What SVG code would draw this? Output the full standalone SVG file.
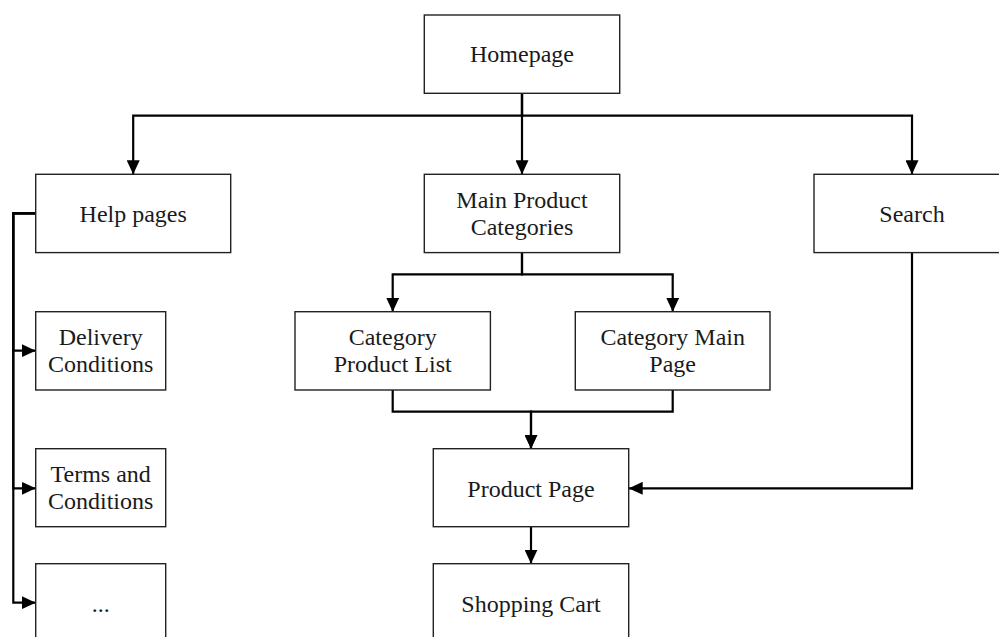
<svg xmlns="http://www.w3.org/2000/svg" width="999" height="637" viewBox="0 0 999 637">
<style>
.box{fill:#fff;stroke:#222;stroke-width:1.4}
.lbl{font-family:"Liberation Serif","DejaVu Serif",serif;font-size:24px;fill:#1a1a1a;text-anchor:middle}
.edge{fill:none;stroke:#000;stroke-width:2.2;marker-end:url(#arr)}
</style>
<defs>
<marker id="arr" markerUnits="userSpaceOnUse" markerWidth="14" markerHeight="13" refX="14" refY="6.5" orient="auto">
<path d="M0,0 L14,6.5 L0,13 z" fill="#000"/>
</marker>
</defs>
<rect width="999" height="637" fill="#fff"/>
<g id="connectors">
<path class="edge" d="M522,93.3 V115.7 H133.2 V174.3"/>
<path class="edge" d="M522,93.3 V174.3"/>
<path class="edge" d="M522,93.3 V115.7 H912 V174.3"/>
<path class="edge" d="M522,252.7 V274.3 H392.7 V311.7"/>
<path class="edge" d="M522,252.7 V274.3 H672.7 V311.7"/>
<path class="edge" d="M392.7,390 V411.7 H531 V448.7"/>
<path class="edge" d="M672.7,390 V411.7 H531 V448.7"/>
<path class="edge" d="M912,252.7 V488.3 H628.7"/>
<path class="edge" d="M531,526.7 V563.7"/>
<path class="edge" d="M35.7,213.3 H13.3 V350.7 H35.7"/>
<path class="edge" d="M35.7,213.3 H13.3 V488.3 H35.7"/>
<path class="edge" d="M35.7,213.3 H13.3 V602.7 H35.7"/>
</g>
<g id="homepage"><rect class="box" x="424.3" y="15" width="195.4" height="78.3"/><text class="lbl" x="522" y="62">Homepage</text></g>
<g id="help"><rect class="box" x="35.7" y="174.3" width="195" height="78.3"/><text class="lbl" x="133.2" y="221.7">Help pages</text></g>
<g id="categories"><rect class="box" x="424.3" y="174.3" width="195.4" height="78.3"/><text class="lbl" x="522" y="207.5">Main Product</text><text class="lbl" x="522" y="235">Categories</text></g>
<g id="search"><rect class="box" x="814" y="174.3" width="196" height="78.3"/><text class="lbl" x="912" y="221.7">Search</text></g>
<g id="catlist"><rect class="box" x="295" y="311.7" width="195.4" height="78.3"/><text class="lbl" x="392.7" y="345">Category</text><text class="lbl" x="392.7" y="372">Product List</text></g>
<g id="catmain"><rect class="box" x="575.3" y="311.7" width="194.7" height="78.3"/><text class="lbl" x="672.7" y="345">Category Main</text><text class="lbl" x="672.7" y="372">Page</text></g>
<g id="delivery"><rect class="box" x="35.7" y="311.7" width="130" height="78.3"/><text class="lbl" x="100.7" y="345">Delivery</text><text class="lbl" x="100.7" y="372.3">Conditions</text></g>
<g id="terms"><rect class="box" x="35.7" y="448.7" width="130" height="78"/><text class="lbl" x="100.7" y="482">Terms and</text><text class="lbl" x="100.7" y="509.3">Conditions</text></g>
<g id="product"><rect class="box" x="433.3" y="448.7" width="195.4" height="78"/><text class="lbl" x="531" y="496.5">Product Page</text></g>
<g id="more"><rect class="box" x="35.7" y="563.7" width="130" height="78"/><text class="lbl" x="100.7" y="611.5">...</text></g>
<g id="cart"><rect class="box" x="433.3" y="563.7" width="195.4" height="78"/><text class="lbl" x="531" y="611.5">Shopping Cart</text></g>
</svg>
